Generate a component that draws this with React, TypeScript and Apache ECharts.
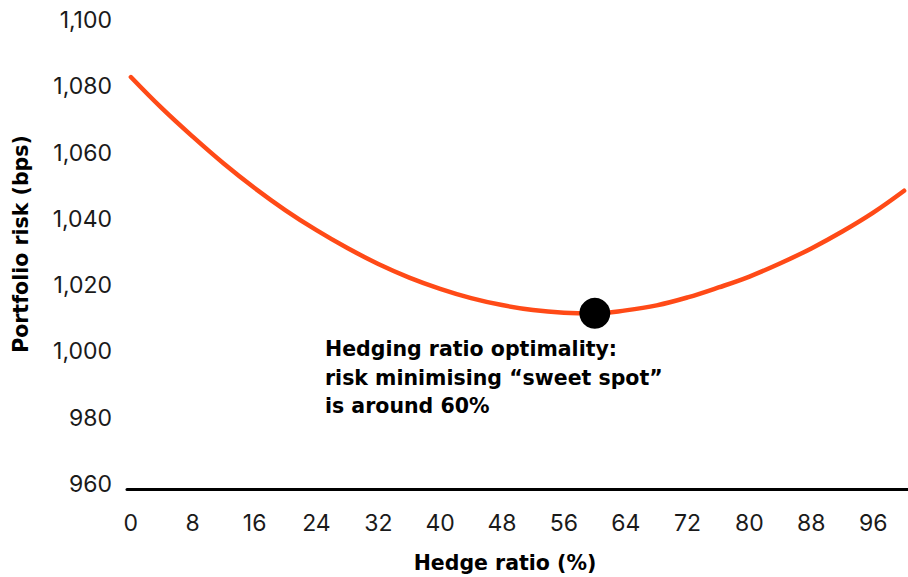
import React, { useEffect, useRef } from "react";
import * as echarts from "echarts";

// Hedge ratio categories 0..100 (%)
const hedgeRatios: string[] = Array.from({ length: 101 }, (_, i) => String(i));

const riskPoints: [number, number][] = [
  [0, 1084.3], [4, 1074.9], [8, 1066.3], [12, 1058.2], [16, 1050.8],
  [20, 1044.1], [24, 1038.1], [28, 1032.7], [32, 1027.9], [36, 1023.8],
  [40, 1020.4], [44, 1017.6], [48, 1015.5], [52, 1014.0], [56, 1013.2],
  [60, 1013.0], [64, 1013.9], [68, 1015.4], [72, 1017.8], [76, 1020.8],
  [80, 1024.1], [84, 1028.1], [88, 1032.6], [92, 1037.7], [96, 1043.4],
  [100, 1050.0],
];

const optimumPoint: [number, number][] = [[60, 1013.0]];

const yMin = 960;
const yMax = 1100;
const yStep = 20;

const annotationLines: string[] = [
  "Hedging ratio optimality:",
  "risk minimising \u201Csweet spot\u201D",
  "is around 60%",
];

const xTitle = "Hedge ratio (%)";
const yTitle = "Portfolio risk (bps)";

const FONT = "Inter, 'Noto Sans', sans-serif";
const BOLD_FONT = "'DejaVu Sans', Inter, sans-serif";

export default function App() {
  const ref = useRef<HTMLDivElement>(null);

  useEffect(() => {
    if (!ref.current) return;
    const chart = echarts.init(ref.current, undefined, { renderer: "svg" });
    chart.setOption({
      animation: false,
      backgroundColor: "#ffffff",
      grid: { left: 127, right: 0, top: 25, bottom: 88, containLabel: false },
      xAxis: {
        type: "category",
        data: hedgeRatios,
        boundaryGap: true,
        axisLine: { show: true, lineStyle: { color: "#000000", width: 3 } },
        axisTick: { show: false },
        axisLabel: {
          interval: 7,
          fontFamily: FONT,
          fontSize: 23,
          color: "#1a1a1a",
          margin: 22,
        },
        splitLine: { show: false },
      },
      yAxis: {
        type: "value",
        min: yMin,
        max: yMax,
        interval: yStep,
        axisLine: { show: false },
        axisTick: { show: false },
        splitLine: { show: false },
        axisLabel: {
          fontFamily: FONT,
          fontSize: 23,
          color: "#1a1a1a",
          margin: 15,
          verticalAlign: "bottom",
          lineHeight: 10,
          formatter: (v: number) => v.toLocaleString("en-US"),
        },
      },
      series: [
        {
          type: "line",
          data: riskPoints,
          smooth: 0.4,
          showSymbol: false,
          symbol: "none",
          lineStyle: { color: "#FF4A17", width: 4.5, cap: "round" },
          z: 2,
        },
        {
          type: "scatter",
          data: optimumPoint,
          symbolSize: 31,
          itemStyle: { color: "#000000", opacity: 1 },
          z: 3,
        },
      ],
      graphic: [
        {
          type: "text",
          left: 325,
          top: 335,
          style: {
            text: annotationLines.join("\n"),
            fontFamily: BOLD_FONT,
            fontWeight: "bold",
            fontSize: 20.5,
            lineHeight: 28.5,
            fill: "#000000",
          },
        },
        {
          type: "text",
          x: 505,
          y: 563,
          style: {
            text: xTitle,
            fontFamily: BOLD_FONT,
            fontWeight: "bold",
            fontSize: 20.5,
            fill: "#000000",
            align: "center",
            verticalAlign: "middle",
          },
        },
        {
          type: "text",
          x: 21,
          y: 244,
          rotation: Math.PI / 2,
          style: {
            text: yTitle,
            fontFamily: BOLD_FONT,
            fontWeight: "bold",
            fontSize: 20.5,
            fill: "#000000",
            align: "center",
            verticalAlign: "middle",
          },
        },
      ],
    });
    return () => chart.dispose();
  }, []);

  return (
    <div
      ref={ref}
      style={{ position: "fixed", left: 0, top: 0, width: 908, height: 577 }}
    />
  );
}
